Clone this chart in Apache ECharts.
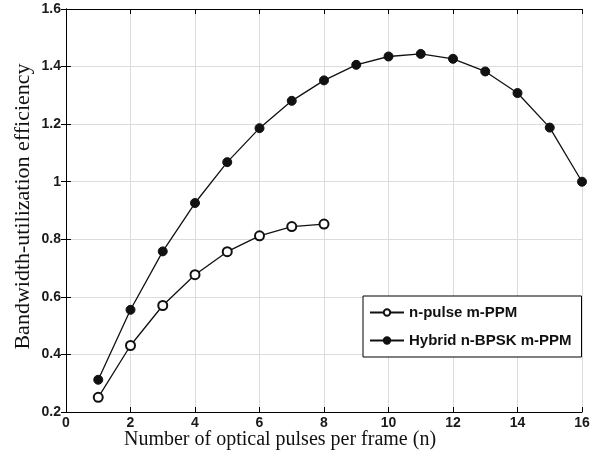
<!DOCTYPE html>
<html>
<head>
<meta charset="utf-8">
<script src="https://cdn.jsdelivr.net/npm/echarts@6/dist/echarts.min.js"></script>
<style>html,body{margin:0;padding:0;background:#fff}#c{width:601px;height:460px}</style>
</head>
<body>
<div id="c"></div>
<script>
var nPulse = [1, 2, 3, 4, 5, 6, 7, 8];
var nPulseEff = [0.251, 0.431, 0.570, 0.677, 0.757, 0.812, 0.844, 0.853];
var hybridN = [1, 2, 3, 4, 5, 6, 7, 8, 9, 10, 11, 12, 13, 14, 15, 16];
var hybridEff = [0.312, 0.555, 0.758, 0.926, 1.068, 1.186, 1.281, 1.352, 1.406, 1.435, 1.444, 1.427, 1.383, 1.308, 1.188, 1.0];
var seriesNames = ['n-pulse m-PPM', 'Hybrid n-BPSK m-PPM'];
var xTitle = 'Number of optical pulses per frame (n)';
var yTitle = 'Bandwidth-utilization efficiency';

function pairs(xs, ys) { return xs.map(function (x, i) { return [x, ys[i]]; }); }

var tickFont = { fontFamily: 'Liberation Sans, Arial', fontWeight: 'bold', fontSize: 14, color: '#1a1a1a' };
var axLine = { show: true, lineStyle: { color: '#000', width: 1 } };
var chart = echarts.init(document.getElementById('c'));
chart.setOption({
  animation: false,
  backgroundColor: '#fff',
  grid: { left: 66, top: 9, right: 19, bottom: 48, containLabel: false, outerBoundsMode: 'none' },
  legend: {
    orient: 'vertical', left: 363, top: 296,
    padding: [9, 10, 9, 6], itemGap: 13, itemWidth: 34, itemHeight: 8,
    borderColor: '#000', borderWidth: 1, backgroundColor: '#fff',
    textStyle: { fontFamily: 'Liberation Sans, Arial', fontWeight: 'bold', fontSize: 15, color: '#111', lineHeight: 14 },
    data: seriesNames
  },
  xAxis: [{
    type: 'value', min: 0, max: 16, interval: 2,
    name: xTitle, nameLocation: 'middle', nameGap: 18, nameMoveOverlap: false,
    nameTextStyle: { fontFamily: 'Liberation Serif, Times New Roman', fontSize: 20, color: '#111', padding: [0, 88, 0, 0] },
    axisLine: axLine, axisTick: { show: true, inside: true, length: 5, lineStyle: { color: '#000' } },
    axisLabel: Object.assign({ margin: 4 }, tickFont),
    splitLine: { show: true, lineStyle: { color: '#dcdcdc', width: 1 } }
  }, {
    type: 'value', min: 0, max: 16, interval: 2, position: 'top',
    axisLine: axLine, axisTick: { show: true, inside: true, length: 5, lineStyle: { color: '#000' } },
    axisLabel: { show: false }, splitLine: { show: false }
  }],
  yAxis: [{
    type: 'value', min: 0.2, max: 1.6, interval: 0.2,
    name: yTitle, nameLocation: 'middle', nameGap: 32, nameMoveOverlap: false,
    nameTextStyle: { fontFamily: 'Liberation Serif, Times New Roman', fontSize: 22, color: '#111', padding: [0, 0, 0, 8] },
    axisLine: axLine, axisTick: { show: true, inside: true, length: 5, lineStyle: { color: '#000' } },
    axisLabel: Object.assign({ margin: 5, formatter: function (v) { return String(Math.round(v * 10) / 10); } }, tickFont),
    splitLine: { show: true, lineStyle: { color: '#dcdcdc', width: 1 } }
  }, {
    type: 'value', min: 0.2, max: 1.6, interval: 0.2, position: 'right',
    axisLine: axLine, axisTick: { show: true, inside: true, length: 5, lineStyle: { color: '#000' } },
    axisLabel: { show: false }, splitLine: { show: false }
  }],
  series: [{
    name: seriesNames[0], type: 'line', data: pairs(nPulse, nPulseEff),
    symbol: 'emptyCircle', symbolSize: 9,
    lineStyle: { color: '#111', width: 1.3 },
    itemStyle: { color: '#111', borderColor: '#111', borderWidth: 1.3 }
  }, {
    name: seriesNames[1], type: 'line', data: pairs(hybridN, hybridEff),
    symbol: 'circle', symbolSize: 9,
    lineStyle: { color: '#111', width: 1.3 },
    itemStyle: { color: '#111', borderColor: '#111', borderWidth: 1 }
  }]
});
</script>
</body>
</html>
